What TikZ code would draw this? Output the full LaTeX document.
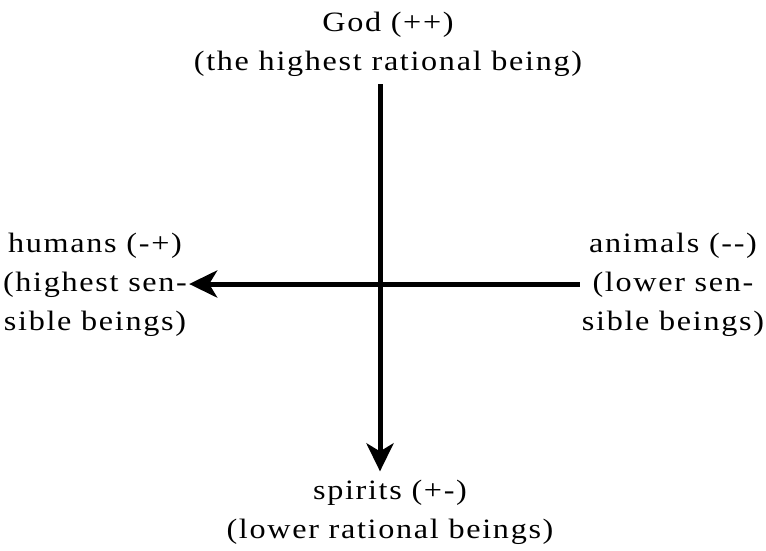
\documentclass[tikz,border=0pt]{standalone}
\usepackage{fontspec}
\setmainfont{Liberation Serif}[FakeStretch=1.15,LetterSpace=6]
\usetikzlibrary{arrows.meta,positioning}
\tikzset{
  being/.style={font=\fontsize{28}{39}\selectfont,align=center,inner xsep=2pt,inner ysep=8pt},
  axisline/.style={line width=5pt,-{Stealth[length=28pt,width=27pt,inset=8pt]}}
}
\begin{document}
\begin{tikzpicture}[x=1pt,y=-1pt]
  \useasboundingbox (0,0) rectangle (766,550);
  \coordinate (origin) at (380,284);
  \node[being,anchor=base] (god) at (388,70) {God (++)\\(the highest rational being)};
  \node[being,anchor=base] (humans) at (95,330) {humans (-+)\\(highest sen-\\sible beings)};
  \node[being,anchor=base] (animals) at (673,330) {animals (-{}-)\\(lower sen-\\sible beings)};
  \node[being,anchor=base] (spirits) at (390,538) {spirits (+-)\\(lower rational beings)};
  % the two axes
  \draw[axisline] (god.south -| origin) -- (spirits.north -| origin);
  \draw[axisline] (animals.west |- origin) -- (humans.east |- origin);
\end{tikzpicture}
\end{document}
